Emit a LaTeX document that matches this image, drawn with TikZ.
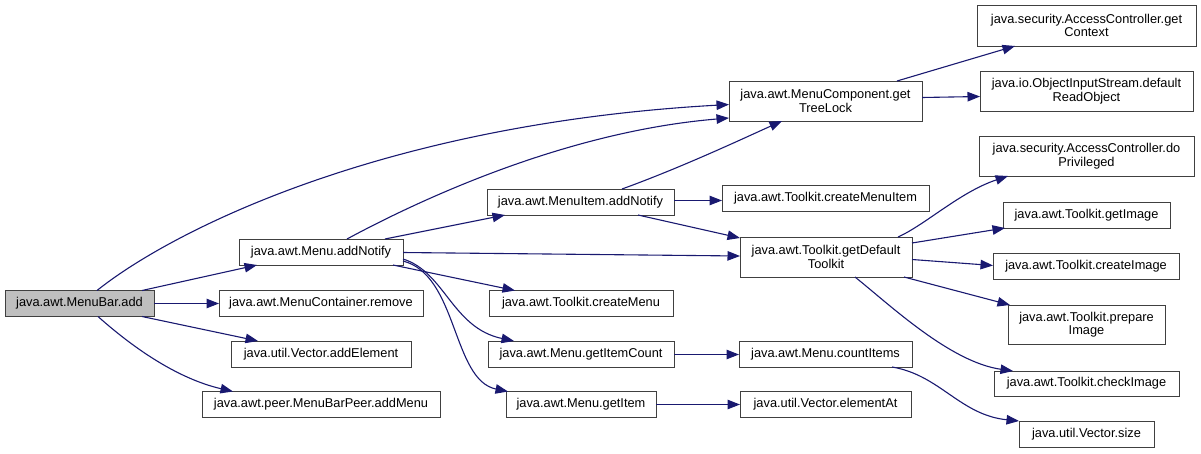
\documentclass[tikz,border=0pt]{standalone}
\usepackage{fontspec}
\setmainfont{Liberation Sans}
\usetikzlibrary{arrows.meta,calc}
\definecolor{edgeblue}{HTML}{191970}
\definecolor{startgray}{HTML}{BFBFBF}
\begin{document}
\begin{tikzpicture}[x=1pt,y=-1pt,
  cgbox/.style={draw=black!75,line width=1pt,fill=white,rectangle,inner sep=0pt,outer sep=0pt,
    align=center,font=\fontsize{12.8}{13.5}\selectfont,minimum height=26pt},
  cgtall/.style={cgbox,minimum height=40pt},
  cgstart/.style={cgbox,fill=startgray},
  cgedge/.style={draw=edgeblue,line width=1.1pt,-{Triangle[length=12.5pt,width=9.5pt]}}]
\useasboundingbox (0,0) rectangle (1201,453);
% column 1
\node[cgstart,minimum width=149pt] (add) at (79.5,303.5) {java.awt.MenuBar.add};
% column 2
\node[cgbox,minimum width=164pt] (mnotify) at (321,252) {java.awt.Menu.addNotify};
\node[cgbox,minimum width=204pt] (remove) at (321,303.5) {java.awt.MenuContainer.remove};
\node[cgbox,minimum width=180pt] (addElement) at (321,354) {java.util.Vector.addElement};
\node[cgbox,minimum width=238pt] (addMenu) at (321,404.5) {java.awt.peer.MenuBarPeer.addMenu};
% column 3
\node[cgbox,minimum width=187pt] (minotify) at (580.5,202) {java.awt.MenuItem.addNotify};
\node[cgbox,minimum width=184pt] (createMenu) at (581,303.5) {java.awt.Toolkit.createMenu};
\node[cgbox,minimum width=186pt] (getItemCount) at (581,354) {java.awt.Menu.getItemCount};
\node[cgbox,minimum width=150pt] (getItem) at (581,404.5) {java.awt.Menu.getItem};
% column 4
\node[cgtall,minimum width=193pt] (treelock) at (825.5,101) {java.awt.MenuComponent.get\\TreeLock};
\node[cgbox,minimum width=207pt] (cmi) at (825.5,198) {java.awt.Toolkit.createMenuItem};
\node[cgtall,minimum width=172pt] (dtk) at (826,257) {java.awt.Toolkit.getDefault\\Toolkit};
\node[cgbox,minimum width=173pt] (countItems) at (825.5,354) {java.awt.Menu.countItems};
\node[cgbox,minimum width=171pt] (elementAt) at (825.5,404.5) {java.util.Vector.elementAt};
% column 5
\node[cgtall,minimum width=219pt,minimum height=41pt] (getContext) at (1086.5,25.5) {java.security.AccessController.get\\Context};
\node[cgtall,minimum width=213pt] (dro) at (1086.5,91) {java.io.ObjectInputStream.default\\ReadObject};
\node[cgtall,minimum width=215pt] (doPriv) at (1086.5,156) {java.security.AccessController.do\\Privileged};
\node[cgbox,minimum width=167pt] (getImage) at (1086.5,215) {java.awt.Toolkit.getImage};
\node[cgbox,minimum width=186pt] (createImage) at (1086,266) {java.awt.Toolkit.createImage};
\node[cgtall,minimum width=157pt,minimum height=39pt] (prepImg) at (1086.5,324.5) {java.awt.Toolkit.prepare\\Image};
\node[cgbox,minimum width=185pt,minimum height=25pt] (checkImg) at (1086.5,383.5) {java.awt.Toolkit.checkImage};
\node[cgbox,minimum width=135pt] (vsize) at (1086.5,434) {java.util.Vector.size};
% edges from MenuBar.add
\draw[cgedge] ($(add.north west)+(92,0)$) .. controls (170,232) and (380,124) .. ($(treelock.west)+(0,3.5)$);
\draw[cgedge] ($(add.north west)+(137,0)$) -- ($(mnotify.south west)+(18,0)$);
\draw[cgedge] (add.east) -- (remove.west);
\draw[cgedge] ($(add.south west)+(137,0)$) -- ($(addElement.north west)+(27,0)$);
\draw[cgedge] ($(add.south west)+(93,0)$) .. controls (130,345) and (175,378) .. ($(addMenu.north west)+(31,0)$);
% edges from Menu.addNotify
\draw[cgedge] ($(mnotify.north west)+(108,0)$) .. controls (410,205) and (560,132) .. ($(treelock.west)+(0,17)$);
\draw[cgedge] ($(mnotify.north west)+(146,0)$) -- ($(minotify.south west)+(18,0)$);
\draw[cgedge] ($(mnotify.east)+(0,0.5)$) -- ($(dtk.west)+(0,-1)$);
\draw[cgedge] ($(mnotify.south west)+(154,0)$) -- ($(createMenu.north west)+(26,0)$);
\draw[cgedge] ($(mnotify.east)+(0,7)$) .. controls (445,272) and (452,328) .. ($(getItemCount.north west)+(26,0)$);
\draw[cgedge] ($(mnotify.east)+(0,9)$) .. controls (458,275) and (452,380) .. ($(getItem.north west)+(2,0)$);
% edges from MenuItem.addNotify
\draw[cgedge] ($(minotify.north west)+(135,0)$) .. controls (680,168) and (740,140) .. ($(treelock.south west)+(53,0)$);
\draw[cgedge] ($(minotify.east)+(0,-1.5)$) -- ($(cmi.west)+(0,2.5)$);
\draw[cgedge] ($(minotify.south west)+(151,0)$) -- ($(dtk.north west)+(0,1)$);
% edges from getTreeLock
\draw[cgedge] ($(treelock.north west)+(168,0)$) -- ($(getContext.south west)+(38,0)$);
\draw[cgedge] ($(treelock.east)+(0,-3.5)$) -- ($(dro.west)+(0,5.5)$);
% edges from getDefaultToolkit
\draw[cgedge] ($(dtk.north west)+(158,0)$) .. controls (925,225) and (960,192) .. ($(doPriv.south west)+(29,0)$);
\draw[cgedge] ($(dtk.east)+(0,-14)$) -- ($(getImage.south west)+(2,0)$);
\draw[cgedge] ($(dtk.east)+(0,2.5)$) -- ($(createImage.west)+(0,-0.5)$);
\draw[cgedge] ($(dtk.south west)+(164,0)$) -- ($(prepImg.north west)+(2,0)$);
\draw[cgedge] ($(dtk.south west)+(115,0)$) .. controls (890,305) and (950,362) .. ($(checkImg.north west)+(19,0)$);
% remaining edges
\draw[cgedge] ($(getItemCount.east)+(0,0.5)$) -- ($(countItems.west)+(0,0.5)$);
\draw[cgedge] ($(countItems.south west)+(153,0)$) .. controls (940,375) and (960,415) .. (vsize.north west);
\draw[cgedge] (getItem.east) -- (elementAt.west);
\end{tikzpicture}
\end{document}
